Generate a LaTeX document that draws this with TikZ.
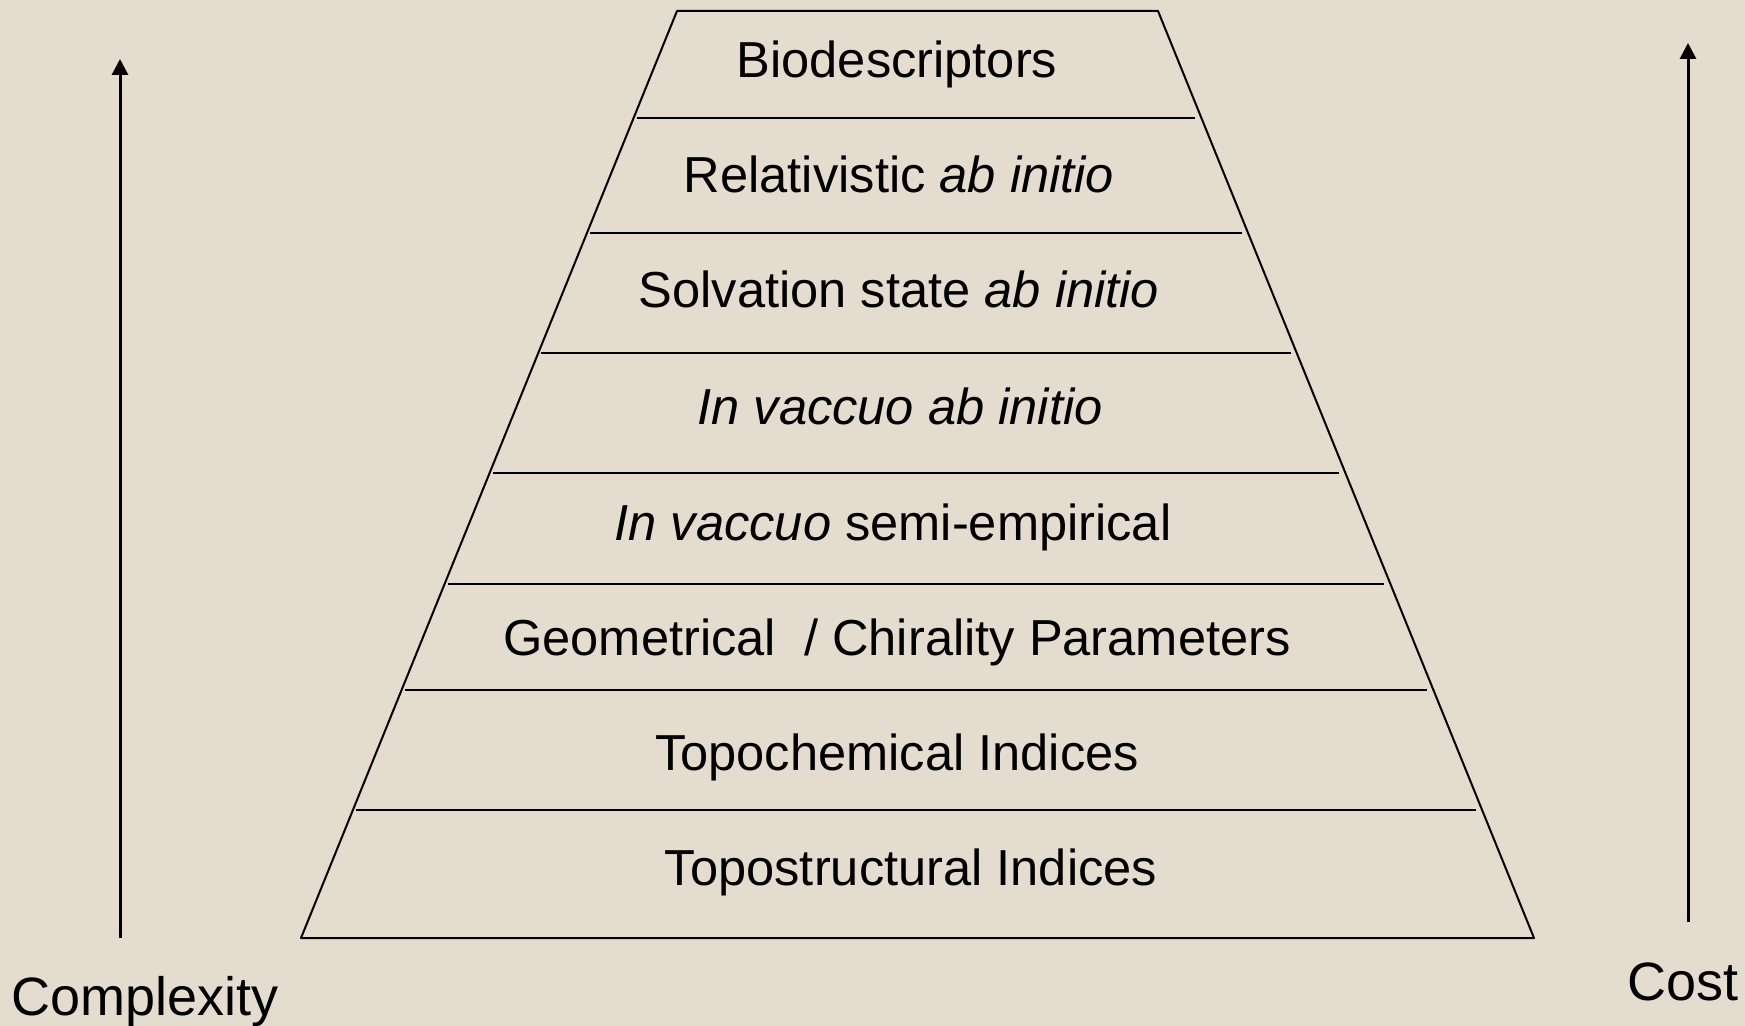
\documentclass[tikz,border=0pt]{standalone}
\usepackage{fontspec}
\setmainfont{Liberation Sans}
\usetikzlibrary{calc,arrows.meta}
\definecolor{bgbeige}{RGB}{227,220,207}
\begin{document}
\begin{tikzpicture}[x=0.5pt,y=-0.5pt,line join=round,
    level/.style={anchor=base,font=\fontsize{25.3}{30}\selectfont},
    sidelabel/.style={anchor=base west,font=\fontsize{27}{32}\selectfont},
    axis/.style={line width=1.5pt,-{Triangle[width=8pt,length=8pt]}}]
    % background and page size
    \fill[bgbeige] (0,0) rectangle (1745,1026);
    \useasboundingbox (0,0) rectangle (1745,1026);

    % outline of the pyramid
    \coordinate (TL) at (677,11);
    \coordinate (TR) at (1158,11);
    \coordinate (BL) at (301,938);
    \coordinate (BR) at (1534,938);
    \draw[line width=1pt] (TL)--(TR)--(BR)--(BL)--cycle;

    % dividing lines between the levels
    \foreach \t in {0.8846,0.7605,0.6311,0.5016,0.3819,0.2675,0.1381}
        \draw[line width=1pt,shorten <=1.5pt,shorten >=3pt]
            ($(BL)!\t!(TL)$)--($(BR)!\t!(TR)$);

    % levels, top to bottom
    \node[level] (bio)   at (897,78)  {Biodescriptors};
    \node[level] (rel)   at (899,193) {Relativistic \textit{ab initio}};
    \node[level] (solv)  at (899,308) {Solvation state \textit{ab initio}};
    \node[level] (vac)   at (900,424) {\textit{In vaccuo ab initio}};
    \node[level] (semi)  at (893,540) {\textit{In vaccuo} semi-empirical};
    \node[level] (geom)  at (897,655) {Geometrical\ \ / Chirality Parameters};
    \node[level] (chem)  at (897,770) {Topochemical Indices};
    \node[level] (struc) at (911,885) {Topostructural Indices};

    % complexity axis
    \coordinate (cxlow) at (120,938);
    \coordinate (cxtop) at (120,59);
    \draw[axis] (cxlow)--(cxtop);
    \node[sidelabel] (complexity) at (4,1015) {Complexity};

    % cost axis
    \coordinate (costlow) at (1688,922);
    \coordinate (costtop) at (1688,43);
    \draw[axis] (costlow)--(costtop);
    \node[sidelabel] (cost) at (1620,1000) {Cost};
\end{tikzpicture}
\end{document}
